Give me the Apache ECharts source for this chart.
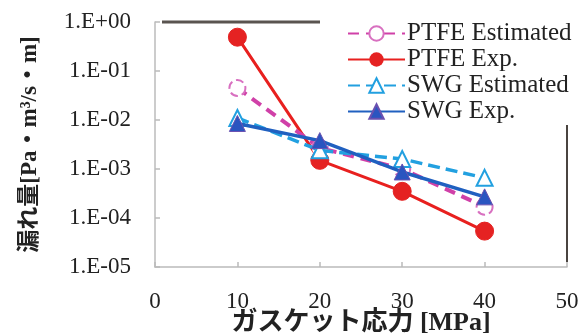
<!DOCTYPE html>
<html><head><meta charset="utf-8">
<script src="https://cdn.jsdelivr.net/npm/echarts@6/dist/echarts.min.js"></script>
<style>html,body{margin:0;padding:0;background:#fff}#c{width:582px;height:336px}</style>
</head><body><div id="c"></div>
<script>
var xValues = [10, 20, 30, 40];
var ptfeEstimated = [0.045, 0.0027, 0.001, 0.00017];
var ptfeExp = [0.49, 0.0015, 0.00035, 0.000054];
var swgEstimated = [0.011, 0.0024, 0.0016, 0.00066];
var swgExp = [0.0085, 0.0038, 0.00087, 0.00027];
var seriesNames = ['PTFE Estimated', 'PTFE Exp.', 'SWG Estimated', 'SWG Exp.'];

function pairs(v){ return xValues.map(function(x,i){ return [x, v[i]]; }); }
function yFmt(v){
  var e = Math.round(Math.log10(v));
  var s = Math.abs(e) < 10 ? '0' + Math.abs(e) : '' + Math.abs(e);
  return '1.E' + (e >= 0 ? '+' : '-') + s;
}
var serif = '"Liberation Serif", "DejaVu Serif", serif';
var mixed = '"Liberation Serif", "Noto Sans CJK JP", serif';
var chart = echarts.init(document.getElementById('c'));
chart.setOption({
  backgroundColor: '#fff',
  animation: false,
  grid: {left: 155, right: 15, top: 22, bottom: 69, containLabel: false, outerBoundsMode: 'none'},
  legend: {
    orient: 'vertical', left: 342, top: 16, itemGap: 1,
    itemWidth: 57, itemHeight: 18,
    textStyle: {fontFamily: serif, fontSize: 25, lineHeight: 24, color: '#222', padding: [0,0,0,-3]},
    data: seriesNames
  },
  xAxis: {
    type: 'value', min: 0, max: 50, interval: 10,
    axisLine: {lineStyle: {color: '#bbb', width: 1.5}},
    axisTick: {inside: true, length: 5, lineStyle: {color: '#bbb', width: 1.5}},
    splitLine: {show: false},
    axisLabel: {fontFamily: serif, fontSize: 23, color: '#222', margin: 23},
    name: 'ガスケット応力 [MPa]', nameLocation: 'middle', nameGap: 43, nameMoveOverlap: false,
    nameTextStyle: {fontFamily: mixed, fontWeight: 'bold', fontSize: 26, color: '#222'}
  },
  yAxis: {
    type: 'log', logBase: 10, min: 1e-5, max: 1,
    axisLine: {show: true, lineStyle: {color: '#bbb', width: 1.5}},
    axisTick: {show: true, inside: true, length: 5, lineStyle: {color: '#bbb', width: 1.5}},
    splitLine: {show: false},
    minorTick: {show: false},
    axisLabel: {fontFamily: serif, fontSize: 23, color: '#222', margin: 24, formatter: yFmt},
    name: '漏れ量[Pa・m³/s・m]', nameLocation: 'middle', nameGap: 113,
    nameTextStyle: {fontFamily: mixed, fontWeight: 'bold', fontSize: 23, color: '#222'}
  },
  graphic: [
    {type: 'line', shape: {x1: 162, y1: 22, x2: 320, y2: 22}, style: {stroke: '#5a5450', lineWidth: 3}},
    {type: 'line', shape: {x1: 567, y1: 125, x2: 567, y2: 262}, style: {stroke: '#4a4440', lineWidth: 2}}
  ],
  series: [
    {name: seriesNames[0], type: 'line', data: pairs(ptfeEstimated), z: 3,
     symbol: 'circle', symbolSize: 16,
     lineStyle: {color: '#d040a8', width: 4, type: [11, 7]},
     itemStyle: {color: '#fff', borderColor: '#d870c0', borderWidth: 2, borderType: 'dashed'}},
    {name: seriesNames[1], type: 'line', data: pairs(ptfeExp), z: 2,
     symbol: 'circle', symbolSize: 18,
     lineStyle: {color: '#e8201f', width: 3},
     itemStyle: {color: '#e52222', borderColor: '#e52222'}},
    {name: seriesNames[2], type: 'line', data: pairs(swgEstimated), z: 4,
     symbol: 'triangle', symbolSize: 16,
     lineStyle: {color: '#22a0e0', width: 3.5, type: [12, 6]},
     itemStyle: {color: '#fff', borderColor: '#22a0e0', borderWidth: 2}},
    {name: seriesNames[3], type: 'line', data: pairs(swgExp), z: 5,
     symbol: 'triangle', symbolSize: 16,
     lineStyle: {color: '#2060c0', width: 3.5},
     itemStyle: {color: '#2a55c0', borderColor: '#6a50b0', borderWidth: 1}}
  ]
});
</script></body></html>
